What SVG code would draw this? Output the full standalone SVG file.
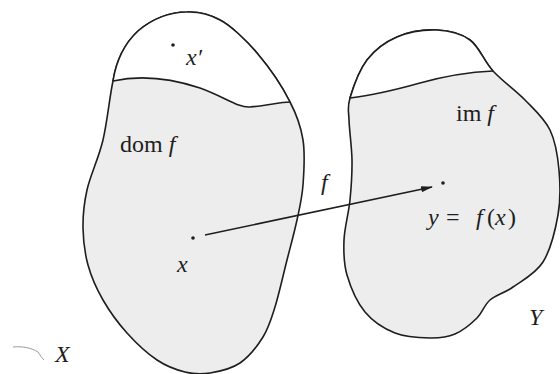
<svg xmlns="http://www.w3.org/2000/svg" width="560" height="374" viewBox="0 0 560 374">
<style>
.outline{fill:#ededed;stroke:#1e1e1e;stroke-width:1.6;stroke-linejoin:round}
.cap{fill:#ffffff;stroke:none}
.chord{fill:none;stroke:#1e1e1e;stroke-width:1.6}
.dot{fill:#1e1e1e}
.lbl{font-family:"Liberation Serif","DejaVu Serif",serif;font-size:24px;fill:#1e1e1e}
.it{font-style:italic}
.edge{fill:none;stroke:#1e1e1e;stroke-width:1.5}
</style>
<defs>
<marker id="ah" viewBox="0 0 12 10" refX="11" refY="5" markerWidth="12" markerHeight="10" markerUnits="userSpaceOnUse" orient="auto">
<path d="M0,2 L12,5 L0,8 Z" fill="#1e1e1e"/>
</marker>
</defs>
<rect width="560" height="374" fill="#ffffff"/>
<g id="setX">
<path class="outline" d="M187,12 C199,11.5 211,15 220,20 C230,25 246,40 257,53 C268,66 282,86 290,102 C297.7,116.5 300.8,126.2 303,140 C305.2,153.8 304,171.7 303,185 C302,198.3 299.7,207.5 297,220 C294.3,232.5 290.7,245.5 287,260 C283.3,274.5 279,294.2 275,307 C271,319.8 268.8,327.7 263,337 C257.2,346.3 248.8,357 240,363 C231.2,369 219.2,371.5 210,373 C200.8,374.5 193.8,374.2 185,372 C176.2,369.8 166.7,366.5 157,360 C147.3,353.5 136,343 127,333 C118,323 109.5,311.3 103,300 C96.5,288.7 91.3,277 88,265 C84.7,253 83.2,240.5 83,228 C82.8,215.5 83.7,204.7 87,190 C90.3,175.3 98.7,158.2 103,140 C107.3,121.8 109.7,96 113,81 C116,62 124,44 138,31 C152,19 170,12 187,12 Z"/>
<path class="cap" d="M113,81 C116,62 124,44 138,31 C152,19 170,12 187,12 C199,11.5 211,15 220,20 C230,25 246,40 257,53 C268,66 282,86 290,102 C280,102 265,106 250,107 C238,108 225,97 200,88 C170,78 140,75 113,81 Z"/>
<path class="chord" d="M113,81 C140,75 170,78 200,88 C225,97 238,108 250,107 C265,106 280,102 290,102"/>
<path class="chord" d="M113,81 C116,62 124,44 138,31 C152,19 170,12 187,12 C199,11.5 211,15 220,20 C230,25 246,40 257,53 C268,66 282,86 290,102"/>
<circle class="dot" cx="173" cy="45" r="1.8"/>
<text class="lbl it" x="186" y="65">x′</text>
<text class="lbl" x="120" y="152">dom <tspan class="it">f</tspan></text>
<circle class="dot" cx="193" cy="238" r="1.8"/>
<text class="lbl it" x="177" y="272">x</text>
<text class="lbl it" x="55" y="362">X</text>
</g>
<g id="setY">
<path class="outline" d="M437,30 C449.2,30.5 460.7,33.2 470,40 C479.3,46.8 483.8,61 493,71 C502.2,81 515.5,90.2 525,100 C534.5,109.8 544.3,118.3 550,130 C555.7,141.7 557.7,155.8 559,170 C560.3,184.2 560.7,199.7 558,215 C555.3,230.3 550.5,250 543,262 C535.5,274 521.8,280.7 513,287 C504.2,293.3 496,294.8 490,300 C484,305.2 482.8,312.3 477,318 C471.2,323.7 462.8,330.7 455,334 C447.2,337.3 440,338.2 430,338 C420,337.8 405.8,337.3 395,333 C384.2,328.7 373,321.7 365,312 C357,302.3 350.5,287 347,275 C343.5,263 343.5,252.5 344,240 C344.5,227.5 348.7,213.3 350,200 C351.3,186.7 352.2,173.3 352,160 C351.8,146.7 349.3,130.3 349,120 C348.7,109.7 347,108 350,98 C353,88 359.2,70.2 367,60 C374.8,49.8 385.3,42 397,37 C408.7,32 424.8,29.5 437,30 Z"/>
<path class="cap" d="M350,98 C353,88 359.2,70.2 367,60 C374.8,49.8 385.3,42 397,37 C408.7,32 424.8,29.5 437,30 C449.2,30.5 460.7,33.2 470,40 C479.3,46.8 483.8,61 493,71 C470,72 445,76 420,83 C395,90 375,95 350,98 Z"/>
<path class="chord" d="M350,98 C375,95 395,90 420,83 C445,76 470,72 493,71"/>
<path class="chord" d="M350,98 C353,88 359.2,70.2 367,60 C374.8,49.8 385.3,42 397,37 C408.7,32 424.8,29.5 437,30 C449.2,30.5 460.7,33.2 470,40 C479.3,46.8 483.8,61 493,71"/>
<text class="lbl" x="456" y="121">im <tspan class="it">f</tspan></text>
<circle class="dot" cx="443" cy="183" r="1.8"/>
<text class="lbl"><tspan class="it" x="428" y="225">y</tspan><tspan x="446" y="225">=</tspan><tspan class="it" x="476" y="225">f</tspan><tspan x="487" y="225">(</tspan><tspan class="it" x="495" y="225">x</tspan><tspan x="508" y="225">)</tspan></text>
<text class="lbl it" x="529" y="325">Y</text>
</g>
<g id="connectors">
<path class="edge" d="M205,235 L432,187" marker-end="url(#ah)"/>
<text class="lbl it" x="321" y="190">f</text>
</g>
<path d="M13,347 C22,346 32,348 38,352 C40,355 42,358 44,360" fill="none" stroke="#9a9a9a" stroke-width="1"/>
</svg>
